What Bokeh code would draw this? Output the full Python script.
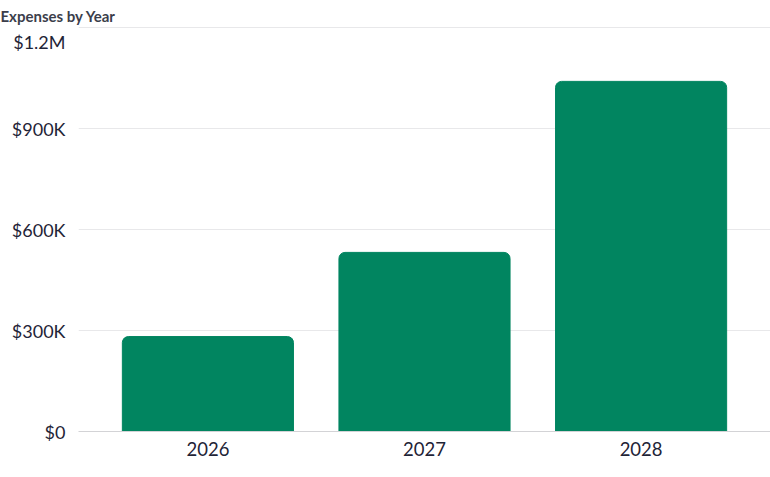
from bokeh.plotting import figure
from bokeh.models import FactorRange, FixedTicker
from bokeh.embed import file_html
from bokeh.resources import INLINE

years = ["2026", "2027", "2028"]
expenses = [282000, 532000, 1040000]
y_ticks = [0, 300000, 600000, 900000, 1200000]
y_tick_labels = ["$0", "$300K", "$600K", "$900K", "$1.2M"]

FONT = "Lato"
TEXT = "#1f2437"


def bar_chart():
    y_max = 1203000
    p = figure(
        x_range=FactorRange(*years, range_padding=0.065),
        y_range=(0, y_max),
        width=770,
        height=477,
        toolbar_location=None,
        output_backend="svg",
        min_border_left=78,
        min_border_right=0,
        min_border_top=26,
        min_border_bottom=46,
    )
    p.vbar(x=years, top=expenses, width=0.79, color="#018560",
           border_radius=[6, 6, 0, 0])

    p.title.text = "Expenses by Year"
    p.title.text_font = FONT
    p.title.text_font_size = "15px"
    p.title.text_font_style = "bold"
    p.title.text_color = "#3b3e4b"
    p.title.text_line_height = 0.6
    p.title.offset = -78
    p.title.vertical_align = "top"
    p.title.standoff = 0

    p.outline_line_color = None
    p.xgrid.grid_line_color = None
    p.ygrid.grid_line_color = "#e8e8ea"
    p.ygrid.ticker = FixedTicker(ticks=y_ticks)

    # the top label is drawn ~14px below its grid line, as in the original
    px = y_max / 404
    label_pos = y_ticks[:-1] + [int(y_ticks[-1] - 14 * px)]
    p.yaxis.ticker = FixedTicker(ticks=label_pos)
    p.yaxis.major_label_overrides = {t: l for t, l in zip(label_pos, y_tick_labels)}
    p.yaxis.axis_line_color = None
    p.yaxis.major_tick_line_color = None
    p.yaxis.minor_tick_line_color = None
    p.yaxis.major_label_text_font = FONT
    p.yaxis.major_label_text_font_size = "18px"
    p.yaxis.major_label_text_color = TEXT
    p.yaxis.major_label_standoff = 7

    p.xaxis.axis_line_color = "#d3d3d6"
    p.xaxis.major_tick_line_color = None
    p.xaxis.minor_tick_line_color = None
    p.xaxis.major_label_text_font = FONT
    p.xaxis.major_label_text_font_size = "18.5px"
    p.xaxis.major_label_text_color = TEXT
    p.xaxis.major_label_standoff = 4

    open("out.html", "w").write(file_html(p, INLINE))


if __name__ == "__main__":
    bar_chart()
